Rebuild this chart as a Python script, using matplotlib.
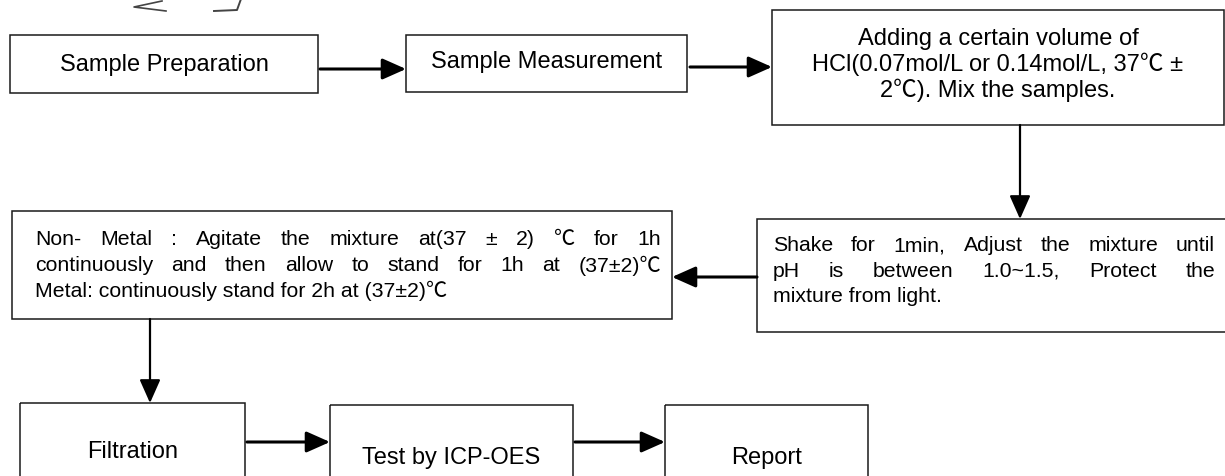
import matplotlib.pyplot as plt
from matplotlib.patches import Rectangle

W, H = 1225, 477

# step texts, one list of lines per box
step_prep = ["Sample Preparation"]
step_measure = ["Sample Measurement"]
step_hcl = ["Adding a certain volume of",
            "HCl(0.07mol/L or 0.14mol/L, 37\u2103 \u00b1",
            "2\u2103). Mix the samples."]
step_shake = ["Shake for 1min, Adjust the mixture until",
              "pH is between 1.0~1.5, Protect the",
              "mixture from light."]
step_agitate = ["Non- Metal : Agitate the mixture at(37 \u00b1 2) \u2103   for 1h",
                "continuously and then allow to stand for 1h at (37\u00b12)\u2103",
                "Metal: continuously stand for 2h at (37\u00b12)\u2103"]
step_filter = ["Filtration"]
step_test = ["Test by ICP-OES"]
step_report = ["Report"]

# layout in pixels: (x0, y0, x1, y1), y down; text mode, first line y, left pad
boxes = [
    (step_prep, (10, 36, 318, 94), 'center', 65, 0),
    (step_measure, (406, 36, 687, 93), 'center', 62, 0),
    (step_hcl, (772, 11, 1224, 126), 'center', 39, 0),
    (step_shake, (757, 220, 1226, 333), 'justify', 246, 16),
    (step_agitate, (12, 212, 672, 320), 'justify', 240, 23),
    (step_filter, (20, 404, 245, 480), 'center', 452, 0),
    (step_test, (330, 406, 573, 480), 'center', 458, 0),
    (step_report, (665, 406, 868, 480), 'center', 458, 0),
]
arrows = [
    ((320, 70), (406, 70), 2.2),
    ((690, 68), (772, 68), 2.2),
    ((1020, 126), (1020, 220), 1.6),
    ((757, 278), (672, 278), 2.2),
    ((150, 320), (150, 404), 1.6),
    ((247, 443), (330, 443), 2.2),
    ((575, 443), (665, 443), 2.2),
]

FONT = ['Liberation Sans', 'Noto Sans CJK SC', 'DejaVu Sans']
FS = 17
FS_J = 15.3
LINE_H = 25.5

fig = plt.figure(figsize=(W / 100, H / 100), dpi=100)
ax = fig.add_axes([0, 0, 1, 1])
ax.set_xlim(0, W)
ax.set_ylim(H, 0)
ax.axis('off')

# scribble at the top left
ax.plot([162, 134, 166], [2, 8, 12], color='#444444', lw=1.2)
ax.plot([241, 237, 214], [0, 11, 12], color='#444444', lw=1.4)

renderer = fig.canvas.get_renderer()


# spread the words of one line over the whole width
def justify_line(line, x0, x1, y):
    words = line.split()
    texts = [ax.text(0, y, w, fontsize=FS_J, family=FONT, va='center', ha='left') for w in words]
    widths = [t.get_window_extent(renderer).width for t in texts]
    gap = (x1 - x0 - sum(widths)) / max(len(words) - 1, 1)
    x = x0
    for t, w in zip(texts, widths):
        t.set_x(x)
        x += w + gap


for lines, (x0, y0, x1, y1), mode, ty, pad in boxes:
    ax.add_patch(Rectangle((x0, y0), x1 - x0, y1 - y0, fill=False,
                           edgecolor='#1a1a1a', lw=1.1, clip_on=False))
    for i, line in enumerate(lines):
        y = ty + i * LINE_H
        if mode == 'center':
            ax.text((x0 + x1) / 2, y, line, fontsize=FS, family=FONT,
                    ha='center', va='center')
        elif i < len(lines) - 1:
            justify_line(line, x0 + pad, x1 - 11, y)
        else:
            ax.text(x0 + pad, y, line, fontsize=FS_J, family=FONT, ha='left', va='center')

for (xa, ya), (xb, yb), lw in arrows:
    ax.annotate('', xy=(xb, yb), xytext=(xa, ya),
                arrowprops=dict(arrowstyle='-|>,head_length=0.9,head_width=0.4',
                                color='black', lw=lw, shrinkA=0, shrinkB=0,
                                mutation_scale=16))

fig.savefig('out.png', dpi=100)
